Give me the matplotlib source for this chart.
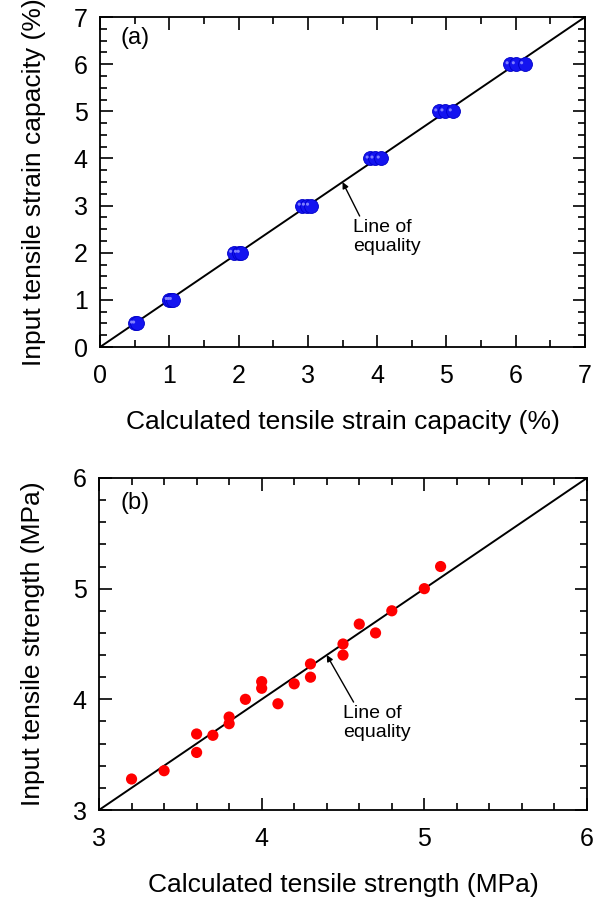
import numpy as np
import matplotlib
matplotlib.use('Agg')
from matplotlib import pyplot as plt
from matplotlib.ticker import MultipleLocator

plt.rcParams['font.family'] = ['Liberation Sans', 'DejaVu Sans']

# (a) strain capacity: calculated (x) vs input (y)
strain_calc = [0.50, 0.53, 1.00, 1.03, 1.06, 1.93, 2.00, 2.04, 2.92, 2.98, 3.04,
               3.90, 3.97, 4.06, 4.89, 4.98, 5.10, 5.92, 6.01, 6.13]
strain_input = [0.5, 0.5, 1, 1, 1, 2, 2, 2, 3, 3, 3,
                4, 4, 4, 5, 5, 5, 6, 6, 6]

# (b) tensile strength: calculated (x) vs input (y)
strength_calc = [3.2, 3.4, 3.6, 3.6, 3.7, 3.8, 3.8, 3.9, 4.0, 4.0, 4.1,
                 4.2, 4.3, 4.3, 4.5, 4.5, 4.6, 4.7, 4.8, 5.0, 5.1]
strength_input = [3.28, 3.355, 3.687, 3.52, 3.675, 3.84, 3.78, 4.0, 4.16, 4.10, 3.96,
                  4.14, 4.32, 4.20, 4.50, 4.40, 4.68, 4.60, 4.80, 5.0, 5.20]

fig = plt.figure(figsize=(5.94, 9.0), dpi=100)
ax1 = fig.add_axes([0.1684, 0.6144, 0.8165, 0.3667])
ax2 = fig.add_axes([0.1667, 0.1, 0.8215, 0.3689])


def style(ax, lo, hi, xminor, yminor):
    ax.set_xlim(lo, hi)
    ax.set_ylim(lo, hi)
    ax.xaxis.set_major_locator(MultipleLocator(1))
    ax.yaxis.set_major_locator(MultipleLocator(1))
    ax.xaxis.set_minor_locator(MultipleLocator(xminor))
    ax.yaxis.set_minor_locator(MultipleLocator(yminor))
    ax.tick_params(which='both', direction='in', top=True, right=True, width=1.2)
    ax.tick_params(which='major', length=9, labelsize=18, pad=9)
    ax.tick_params(axis='x', which='major', pad=12)
    ax.tick_params(which='minor', length=5)
    for s in ax.spines.values():
        s.set_linewidth(1.3)
    ax.plot([lo, hi], [lo, hi], color='black', lw=1.4, zorder=1)


style(ax1, 0, 7, 0.5, 0.25)
# shaded blue spheres
ax1.scatter(strain_calc, strain_input, s=100, color='#1414f0', edgecolors='#0000c8',
            linewidths=0.6, zorder=3)
ax1.scatter(np.array(strain_calc) - 0.045, np.array(strain_input) + 0.03, s=5,
            color='#8080ff', edgecolors='none', zorder=4)
ax1.text(0.3, 6.55, '(a)', fontsize=17, va='center')
ax1.annotate('Line of\nequality', xy=(3.5, 3.5), xytext=(3.65, 2.72),
             fontsize=14, va='top', ha='left', linespacing=1.2,
             arrowprops=dict(arrowstyle='-|>', color='black', lw=1,
                             mutation_scale=9, shrinkA=0, shrinkB=0,
                             relpos=(0.12, 1.0)))
ax1.set_xlabel('Calculated tensile strain capacity (%)', fontsize=19, labelpad=16)
ax1.set_ylabel('Input tensile strain capacity (%)', fontsize=19, labelpad=20)

style(ax2, 3, 6, 0.2, 0.2)
ax2.scatter(strength_calc, strength_input, s=65, color='#ff0000', edgecolors='none',
            zorder=3)
ax2.text(3.13, 5.77, '(b)', fontsize=17, va='center')
ax2.annotate('Line of\nequality', xy=(4.4, 4.4), xytext=(4.5, 3.95),
             fontsize=14, va='top', ha='left', linespacing=1.2,
             arrowprops=dict(arrowstyle='-|>', color='black', lw=1,
                             mutation_scale=9, shrinkA=0, shrinkB=0,
                             relpos=(0.18, 1.0)))
ax2.set_xlabel('Calculated tensile strength (MPa)', fontsize=19, labelpad=16)
ax2.set_ylabel('Input tensile strength (MPa)', fontsize=19, labelpad=20)

fig.savefig('out.png', dpi=100)
